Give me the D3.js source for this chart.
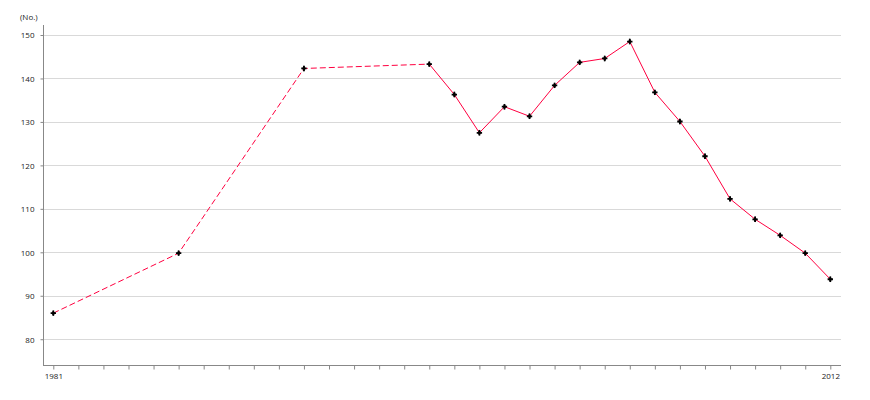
<!DOCTYPE html>
<html><head><meta charset="utf-8">
<script src="https://cdn.jsdelivr.net/npm/d3@7"></script>
<style>body{margin:0;background:#fff}svg{display:block}text{font-family:"Open Sans",sans-serif;font-size:8px;fill:#222}</style>
</head><body><svg id="c" width="870" height="400"></svg>
<script>
const years = [1981,1986,1991,1996,1997,1998,1999,2000,2001,2002,2003,2004,2005,2006,2007,2008,2009,2010,2011,2012];
const values = [86.0,99.8,142.3,143.3,136.3,127.5,133.5,131.3,138.4,143.7,144.6,148.5,136.8,130.1,122.1,112.3,107.6,103.9,99.8,93.8];
const yTicks = [80,90,100,110,120,130,140,150];
const xLabels = [1981,2012];
const unitLabel = "(No.)";

const svg = d3.select("#c");
const x0 = 43, x1 = 841, yTop = 25, yBot = 365;
const x = d3.scaleLinear().domain([1981,2012]).range([53.3,830.3]);
const y = d3.scaleLinear().domain([74,150]).range([365.3,35]);

svg.append("g").selectAll("line").data(yTicks).join("line")
  .attr("x1",x0).attr("x2",x1).attr("y1",d=>Math.round(y(d))+0.5).attr("y2",d=>Math.round(y(d))+0.5)
  .attr("stroke","#d9d9d9").attr("stroke-width",1);

const ya = svg.append("g").attr("transform",`translate(${x0+0.5},0)`)
  .call(d3.axisLeft(y).tickValues(yTicks).tickSize(3).tickPadding(6).tickSizeOuter(0));
ya.select(".domain").attr("d",`M0,${yTop}V${yBot+0.5}`).attr("stroke","#888");
ya.selectAll(".tick line").attr("stroke","#888");
ya.selectAll("text").attr("fill","#222").style("font-size","8px").attr("dy","0.35em");

const allYears = d3.range(1981,2013);
const xa = svg.append("g").attr("transform",`translate(0,${Math.round(yBot)+0.5})`)
  .call(d3.axisBottom(x).tickValues(allYears).tickSize(4).tickPadding(4).tickFormat(d=>xLabels.includes(d)?String(d):""));
xa.select(".domain").attr("d",`M${x0},0H${x1}`).attr("stroke","#888");
xa.selectAll(".tick line").attr("stroke","#888");
xa.selectAll("text").attr("fill","#222").style("font-size","8px");

svg.append("text").attr("x",20).attr("y",20).text(unitLabel);

const line = d3.line().x(d=>x(d[0])).y(d=>y(d[1]));
const pts = years.map((yr,i)=>[yr,values[i]]);
const split = years.indexOf(1996);
svg.append("path").attr("d",line(pts.slice(0,split+1))).attr("fill","none")
  .attr("stroke","#ff0040").attr("stroke-width",1).attr("stroke-dasharray","6,3");
svg.append("path").attr("d",line(pts.slice(split))).attr("fill","none")
  .attr("stroke","#ff0040").attr("stroke-width",1);

const mk = svg.append("g").selectAll("g").data(pts).join("g")
  .attr("transform",d=>`translate(${x(d[0])},${y(d[1])})`);
mk.append("path").attr("d",d3.symbol().type(d3.symbolCross).size(16)).attr("fill","#000");
mk.append("path").attr("d",d3.symbol().type(d3.symbolDiamond).size(10)).attr("fill","#000");
</script></body></html>
